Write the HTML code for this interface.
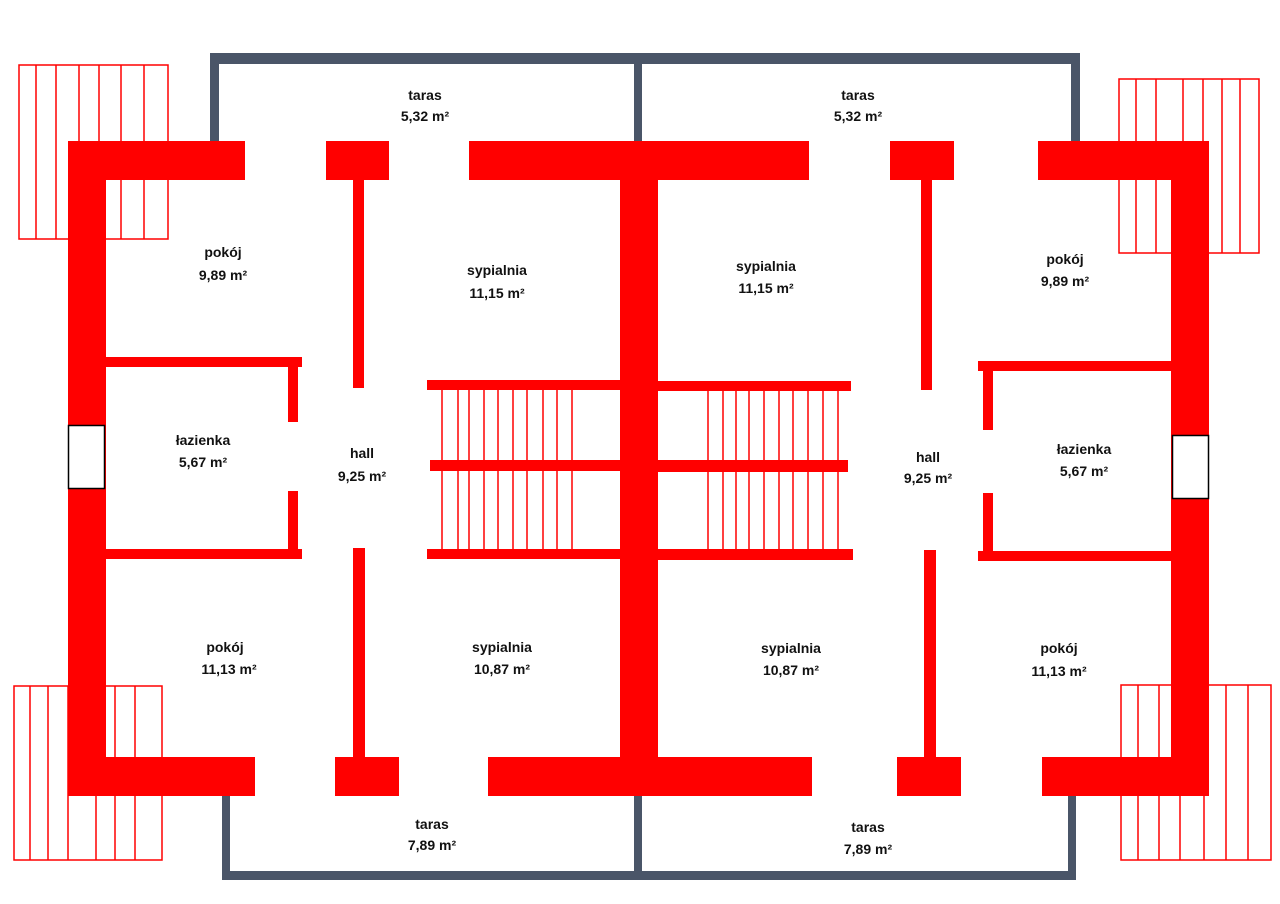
<!DOCTYPE html>
<html><head><meta charset="utf-8"><style>
html,body{margin:0;padding:0;background:#fff;width:1280px;height:904px;overflow:hidden}
text{font-family:"Liberation Sans",sans-serif;font-weight:bold;font-size:14px;fill:#111;text-anchor:middle}
</style></head><body>
<svg width="1280" height="904" viewBox="0 0 1280 904" xmlns="http://www.w3.org/2000/svg">
<!-- gray terrace frames -->
<g fill="#4a5568">
<rect x="210" y="53" width="870" height="11"/>
<rect x="210" y="53" width="9" height="90"/>
<rect x="634" y="53" width="8" height="90"/>
<rect x="1071" y="53" width="9" height="90"/>
<rect x="222" y="795" width="8" height="85"/>
<rect x="634" y="795" width="8" height="85"/>
<rect x="1068" y="795" width="8" height="85"/>
<rect x="222" y="871" width="854" height="9"/>
</g>
<!-- outline stairs -->
<g fill="none" stroke="#f00" stroke-width="1.5">
<rect x="19" y="65" width="149" height="174"/>
<path d="M36 65V239M56 65V239M79 65V239M99 65V239M121 65V239M144 65V239"/>
<rect x="1119" y="79" width="140" height="174"/>
<path d="M1136 79V253M1156 79V253M1183 79V253M1203 79V253M1222 79V253M1240 79V253"/>
<rect x="14" y="686" width="148" height="174"/>
<path d="M30 686V860M48 686V860M68 686V860M96 686V860M115 686V860M135 686V860"/>
<rect x="1121" y="685" width="150" height="175"/>
<path d="M1138 685V860M1159 685V860M1180 685V860M1204 685V860M1226 685V860M1248 685V860"/>
</g>
<!-- red walls -->
<g fill="#f00">
<rect x="68" y="141" width="177" height="39"/>
<rect x="68" y="141" width="38" height="655"/>
<rect x="326" y="141" width="63" height="39"/>
<rect x="353" y="180" width="11" height="208"/>
<rect x="469" y="141" width="340" height="39"/>
<rect x="620" y="141" width="38" height="655"/>
<rect x="890" y="141" width="64" height="39"/>
<rect x="921" y="180" width="11" height="210"/>
<rect x="1038" y="141" width="171" height="39"/>
<rect x="1171" y="141" width="38" height="655"/>
<rect x="106" y="357" width="196" height="10"/>
<rect x="288" y="357" width="10" height="65"/>
<rect x="106" y="549" width="196" height="10"/>
<rect x="288" y="491" width="10" height="66"/>
<rect x="978" y="361" width="193" height="10"/>
<rect x="983" y="361" width="10" height="69"/>
<rect x="978" y="551" width="193" height="10"/>
<rect x="983" y="493" width="10" height="66"/>
<rect x="353" y="548" width="12" height="210"/>
<rect x="335" y="757" width="64" height="39"/>
<rect x="924" y="550" width="12" height="208"/>
<rect x="897" y="757" width="64" height="39"/>
<rect x="68" y="757" width="187" height="39"/>
<rect x="488" y="757" width="324" height="39"/>
<rect x="1042" y="757" width="167" height="39"/>
<rect x="427" y="380" width="193" height="10"/>
<rect x="430" y="460" width="190" height="11"/>
<rect x="427" y="549" width="193" height="10"/>
<rect x="658" y="381" width="193" height="10"/>
<rect x="658" y="460" width="190" height="12"/>
<rect x="658" y="549" width="195" height="11"/>
</g>
<g stroke="#f00" stroke-width="1.5" fill="none">
<path d="M442 390V549M458 390V549M469 390V549M484 390V549M498 390V549M513 390V549M527 390V549M543 390V549M557 390V549M572 390V549"/>
<path d="M708 391V549M723 391V549M736 391V549M749 391V549M764 391V549M779 391V549M793 391V549M808 391V549M823 391V549M838 391V549"/>
</g>
<!-- windows -->
<rect x="68.5" y="425.5" width="36" height="63" fill="#fff" stroke="#000" stroke-width="1.5"/>
<rect x="1172.5" y="435.5" width="36" height="63" fill="#fff" stroke="#000" stroke-width="1.5"/>
<!-- labels -->
<g>
<text x="425" y="100">taras</text><text x="425" y="121">5,32 m²</text>
<text x="858" y="100">taras</text><text x="858" y="121">5,32 m²</text>
<text x="223" y="257">pokój</text><text x="223" y="280">9,89 m²</text>
<text x="497" y="275">sypialnia</text><text x="497" y="298">11,15 m²</text>
<text x="766" y="271">sypialnia</text><text x="766" y="293">11,15 m²</text>
<text x="1065" y="264">pokój</text><text x="1065" y="286">9,89 m²</text>
<text x="203" y="445">łazienka</text><text x="203" y="467">5,67 m²</text>
<text x="362" y="458">hall</text><text x="362" y="481">9,25 m²</text>
<text x="928" y="462">hall</text><text x="928" y="483">9,25 m²</text>
<text x="1084" y="454">łazienka</text><text x="1084" y="476">5,67 m²</text>
<text x="225" y="652">pokój</text><text x="229" y="674">11,13 m²</text>
<text x="502" y="652">sypialnia</text><text x="502" y="674">10,87 m²</text>
<text x="791" y="653">sypialnia</text><text x="791" y="675">10,87 m²</text>
<text x="1059" y="653">pokój</text><text x="1059" y="676">11,13 m²</text>
<text x="432" y="829">taras</text><text x="432" y="850">7,89 m²</text>
<text x="868" y="832">taras</text><text x="868" y="854">7,89 m²</text>
</g>
</svg>
</body></html>
